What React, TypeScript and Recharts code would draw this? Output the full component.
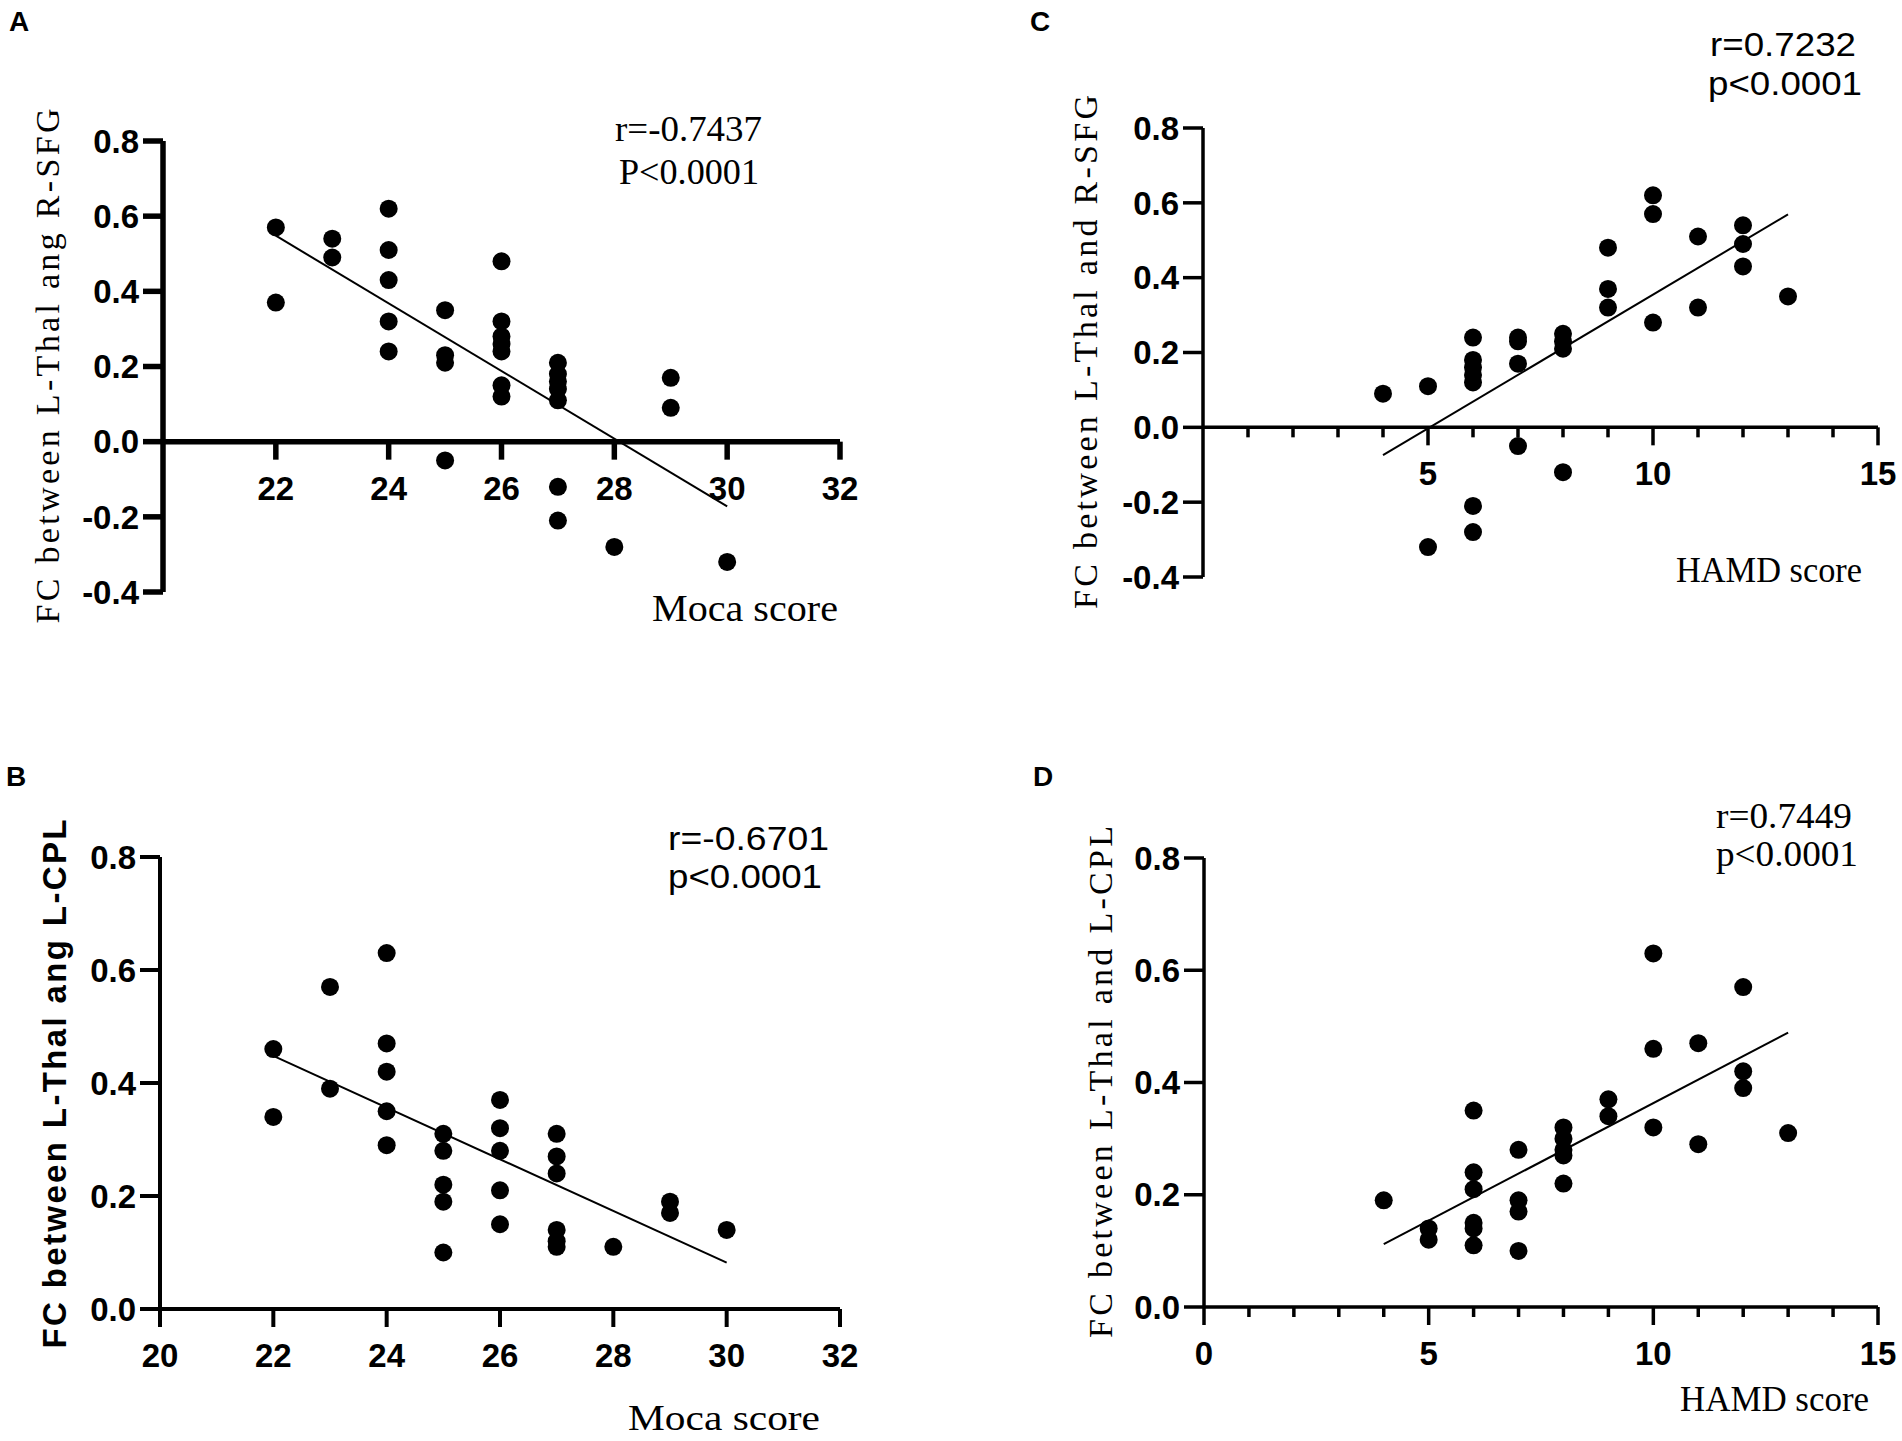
import React from 'react';
import { ScatterChart, Scatter, XAxis, YAxis, ReferenceLine } from 'recharts';

// ---- data ----
// A: Moca vs FC(L-Thal, R-SFG)
const aMoca = [22, 22, 23, 23, 24, 24, 24, 24, 24, 25, 25, 25, 25, 26, 26, 26, 26, 26, 26, 26, 27, 27, 27, 27, 27, 27, 27, 28, 29, 29, 30];
const aFC = [0.57, 0.37, 0.54, 0.49, 0.62, 0.51, 0.43, 0.32, 0.24, 0.35, 0.23, 0.21, -0.05, 0.48, 0.32, 0.28, 0.26, 0.24, 0.15, 0.12, 0.21, 0.18, 0.16, 0.14, 0.11, -0.12, -0.21, -0.28, 0.17, 0.09, -0.32];
const aFitX = [22, 30];
const aFitY = [0.548, -0.172];

// B: Moca vs FC(L-Thal, L-CPL)
const bMoca = [22, 22, 23, 23, 24, 24, 24, 24, 24, 25, 25, 25, 25, 25, 26, 26, 26, 26, 26, 27, 27, 27, 27, 27, 27, 28, 29, 29, 30];
const bFC = [0.46, 0.34, 0.57, 0.39, 0.63, 0.47, 0.42, 0.35, 0.29, 0.31, 0.28, 0.22, 0.19, 0.1, 0.37, 0.32, 0.28, 0.21, 0.15, 0.31, 0.27, 0.24, 0.14, 0.12, 0.11, 0.11, 0.19, 0.17, 0.14];
const bFitX = [22, 30];
const bFitY = [0.448, 0.082];

// C: HAMD vs FC(L-Thal, R-SFG)
const cHamd = [4, 5, 5, 6, 6, 6, 6, 6, 6, 6, 7, 7, 7, 7, 8, 8, 8, 8, 9, 9, 9, 10, 10, 10, 11, 11, 12, 12, 12, 13];
const cFC = [0.09, 0.11, -0.32, 0.24, 0.18, 0.16, 0.14, 0.12, -0.21, -0.28, 0.24, 0.23, 0.17, -0.05, 0.25, 0.23, 0.21, -0.12, 0.48, 0.37, 0.32, 0.62, 0.57, 0.28, 0.51, 0.32, 0.54, 0.49, 0.43, 0.35];
const cFitX = [4, 13];
const cFitY = [-0.074, 0.569];

// D: HAMD vs FC(L-Thal, L-CPL)
const dHamd = [4, 5, 5, 6, 6, 6, 6, 6, 6, 7, 7, 7, 7, 8, 8, 8, 8, 8, 9, 9, 10, 10, 10, 11, 11, 12, 12, 12, 13];
const dFC = [0.19, 0.14, 0.12, 0.35, 0.24, 0.21, 0.15, 0.14, 0.11, 0.28, 0.19, 0.17, 0.1, 0.32, 0.3, 0.28, 0.27, 0.22, 0.37, 0.34, 0.63, 0.46, 0.32, 0.47, 0.29, 0.57, 0.42, 0.39, 0.31];
const dFitX = [4, 13];
const dFitY = [0.112, 0.489];

// ticks
const yTicksNeg = [-0.4, -0.2, 0, 0.2, 0.4, 0.6, 0.8];
const yTicksPos = [0, 0.2, 0.4, 0.6, 0.8];
const mocaTicksA = [22, 24, 26, 28, 30, 32];
const mocaTicksB = [20, 22, 24, 26, 28, 30, 32];
const hamdTicks = [1, 2, 3, 4, 5, 6, 7, 8, 9, 10, 11, 12, 13, 14, 15];
const hamdTicksD = [0, 1, 2, 3, 4, 5, 6, 7, 8, 9, 10, 11, 12, 13, 14, 15];
const hamdLabels = [0, 5, 10, 15];

const SERIF = "'Liberation Serif', 'DejaVu Serif', serif";
const SANS = "'Liberation Sans', Arial, sans-serif";

const zip = (xs, ys) => xs.map((x, i) => ({ x, y: ys[i] }));

// chart box padding around the plot area
const PAD_L = 130;
const PAD_T = 40;
const PAD_R = 40;
const PAD_B = 80;
const Y_W = 110;
const TICK_FONT = 33;

const XTick = ({ x, payload, zeroY, labels, majors, thick }) => {
  const v = payload.value;
  const major = majors ? majors.includes(v) : true;
  const len = major ? 18 : 10;
  return (
    <g>
      <line x1={x} x2={x} y1={zeroY} y2={zeroY + len} stroke="#000" strokeWidth={thick} />
      {labels.includes(v) && (
        <text x={x} y={zeroY + 58} textAnchor="middle" fill="#000" fontSize={TICK_FONT} fontWeight={700} fontFamily={SANS}>
          {v}
        </text>
      )}
    </g>
  );
};

const Dot = (p) => <circle cx={p.cx} cy={p.cy} r={9} fill="#000" />;
const NoDot = () => <g />;

function Panel({ plot, xDomain, yDomain, xTicks, xLabels, xMajors, yTicks, points, fit, thick }) {
  const plotW = plot.right - plot.left;
  const plotH = plot.bottom - plot.top;
  const width = plotW + PAD_L + PAD_R;
  const height = plotH + PAD_T + PAD_B;
  const zeroY = PAD_T + (plotH * yDomain[1]) / (yDomain[1] - yDomain[0]);
  return (
    <div style={{ position: 'absolute', left: plot.left - PAD_L, top: plot.top - PAD_T, width, height }}>
      <ScatterChart width={width} height={height} margin={{ top: PAD_T, right: PAD_R, bottom: PAD_B - 60, left: PAD_L - Y_W }}>
        <XAxis
          type="number"
          dataKey="x"
          domain={xDomain}
          ticks={xTicks}
          interval={0}
          height={60}
          axisLine={false}
          tickLine={false}
          allowDataOverflow
          tick={(p) => <XTick {...p} zeroY={zeroY} labels={xLabels} majors={xMajors} thick={thick} />}
        />
        <YAxis
          type="number"
          dataKey="y"
          domain={yDomain}
          ticks={yTicks}
          interval={0}
          width={Y_W}
          allowDataOverflow
          axisLine={{ stroke: '#000', strokeWidth: thick }}
          tickLine={{ stroke: '#000', strokeWidth: thick }}
          tickSize={20}
          tickMargin={4}
          tickFormatter={(v) => v.toFixed(1)}
          tick={{ fill: '#000', fontSize: TICK_FONT, fontWeight: 700, fontFamily: SANS }}
        />
        <ReferenceLine y={0} stroke="#000" strokeWidth={thick} />
        <Scatter data={points} shape={Dot} isAnimationActive={false} />
        <Scatter data={fit} shape={NoDot} line={{ stroke: '#000', strokeWidth: 2 }} isAnimationActive={false} />
      </ScatterChart>
    </div>
  );
}

const VTitle = ({ cx, cy, len, children, font, weight = 400, size = 34 }) => (
  <text
    x={cx}
    y={cy}
    transform={`rotate(-90 ${cx} ${cy})`}
    textAnchor="middle"
    dominantBaseline="central"
    fontFamily={font}
    fontWeight={weight}
    fontSize={size}
    textLength={len}
    lengthAdjust="spacing"
    fill="#000"
  >
    {children}
  </text>
);

const Txt = ({ x, y, len, children, font, size = 34, weight = 400 }) => (
  <text x={x} y={y} fontFamily={font} fontSize={size} fontWeight={weight} textLength={len} lengthAdjust="spacingAndGlyphs" fill="#000">
    {children}
  </text>
);

export default function App() {
  return (
    <div style={{ position: 'absolute', left: 0, top: 0, width: 1902, height: 1441, background: '#fff', overflow: 'hidden' }}>
      <Panel
        plot={{ left: 163, right: 840, top: 141, bottom: 592 }}
        xDomain={[20, 32]}
        yDomain={[-0.4, 0.8]}
        xTicks={mocaTicksA}
        xLabels={mocaTicksA}
        yTicks={yTicksNeg}
        points={zip(aMoca, aFC)}
        fit={zip(aFitX, aFitY)}
        thick={5.5}
      />
      <Panel
        plot={{ left: 160, right: 840, top: 857, bottom: 1309 }}
        xDomain={[20, 32]}
        yDomain={[0, 0.8]}
        xTicks={mocaTicksB}
        xLabels={mocaTicksB}
        yTicks={yTicksPos}
        points={zip(bMoca, bFC)}
        fit={zip(bFitX, bFitY)}
        thick={4}
      />
      <Panel
        plot={{ left: 1203, right: 1878, top: 128, bottom: 577 }}
        xDomain={[0, 15]}
        yDomain={[-0.4, 0.8]}
        xTicks={hamdTicks}
        xLabels={hamdLabels}
        xMajors={hamdLabels}
        yTicks={yTicksNeg}
        points={zip(cHamd, cFC)}
        fit={zip(cFitX, cFitY)}
        thick={3.5}
      />
      <Panel
        plot={{ left: 1204, right: 1878, top: 858, bottom: 1307 }}
        xDomain={[0, 15]}
        yDomain={[0, 0.8]}
        xTicks={hamdTicksD}
        xLabels={hamdLabels}
        xMajors={hamdLabels}
        yTicks={yTicksPos}
        points={zip(dHamd, dFC)}
        fit={zip(dFitX, dFitY)}
        thick={3.5}
      />

      <svg width={1902} height={1441} style={{ position: 'absolute', left: 0, top: 0, pointerEvents: 'none' }}>
        <g fontFamily={SANS} fontWeight={700} fontSize={28} fill="#000">
          <text x={9} y={31}>A</text>
          <text x={6} y={786}>B</text>
          <text x={1030} y={31}>C</text>
          <text x={1033} y={786}>D</text>
        </g>

        <VTitle cx={47} cy={366} len={515} font={SERIF}>FC between L-Thal ang R-SFG</VTitle>
        <VTitle cx={54} cy={1084} len={529} font={SANS} weight={700} size={33}>FC between L-Thal ang L-CPL</VTitle>
        <VTitle cx={1085} cy={352} len={514} font={SERIF}>FC between L-Thal and R-SFG</VTitle>
        <VTitle cx={1100} cy={1082} len={512} font={SERIF}>FC between L-Thal and L-CPL</VTitle>

        <Txt x={615} y={141} len={147} font={SERIF} size={36}>r=-0.7437</Txt>
        <Txt x={619} y={184} len={140} font={SERIF} size={36}>P&lt;0.0001</Txt>
        <Txt x={668} y={850} len={161} font={SANS} size={34}>r=-0.6701</Txt>
        <Txt x={668} y={888} len={154} font={SANS} size={34}>p&lt;0.0001</Txt>
        <Txt x={1710} y={56} len={146} font={SANS} size={34}>r=0.7232</Txt>
        <Txt x={1708} y={95} len={154} font={SANS} size={34}>p&lt;0.0001</Txt>
        <Txt x={1716} y={828} len={136} font={SERIF} size={35}>r=0.7449</Txt>
        <Txt x={1716} y={866} len={142} font={SERIF} size={35}>p&lt;0.0001</Txt>

        <Txt x={652} y={621} len={186} font={SERIF} size={38}>Moca score</Txt>
        <Txt x={628} y={1430} len={192} font={SERIF} size={36}>Moca score</Txt>
        <Txt x={1676} y={582} len={186} font={SERIF} size={36}>HAMD score</Txt>
        <Txt x={1680} y={1411} len={189} font={SERIF} size={36}>HAMD score</Txt>
      </svg>
    </div>
  );
}
